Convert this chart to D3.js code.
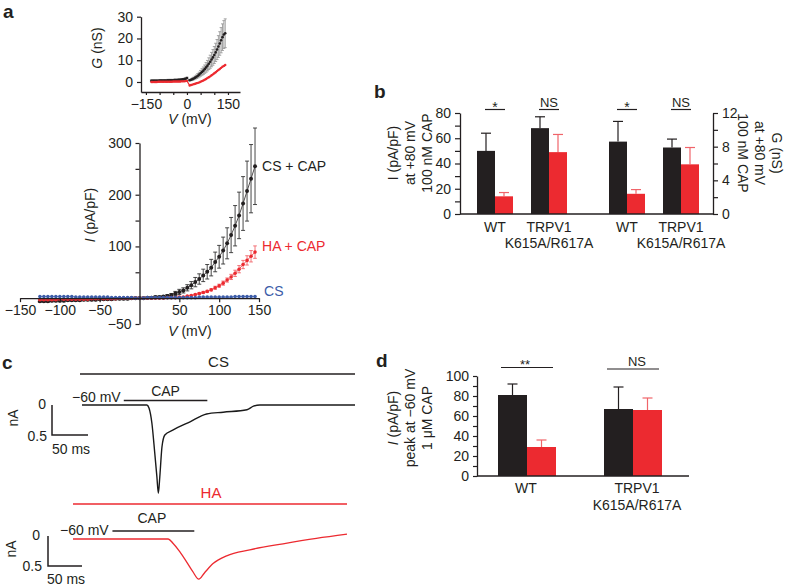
<!DOCTYPE html>
<html><head><meta charset="utf-8">
<script src="https://cdn.jsdelivr.net/npm/d3@7"></script>
<style>body{margin:0;background:#fff}</style>
</head><body>
<svg id="c" width="788" height="586"></svg>
<script>
// ================= DATA =================
// Panel a main: I-V relation
const ivVoltage = [-125,-120,-115,-110,-105,-100,-95,-90,-85,-80,-75,-70,-65,-60,-55,-50,-45,-40,-35,-30,-25,-20,-15,-10,-5,0,5,10,15,20,25,30,35,40,45,50,55,60,65,70,75,80,85,90,95,100,105,110,115,120,125,130,135,140,145];
const csCapI   = [-6,-6,-6,-5,-5,-5,-5,-4,-4,-4,-4,-3,-3,-3,-3,-2,-2,-2,-2,-1,-1,-1,-1,0,0,0,0,1,1,2,2,3,4,6,9,12,15,20,25,31,37,44,51,59,70,80,92,106,122,140,160,183,207,231,255];
const csCapErr = [2,2,2,2,2,2,2,2,2,2,2,2,2,2,2,2,2,2,2,2,2,2,2,2,2,2,2,2,2,2,2,2,3,3,4,5,5,6,7,9,10,12,14,16,19,22,26,30,34,39,45,52,58,66,74];
const haCapI   = [-3,-3,-3,-3,-3,-2,-2,-2,-2,-2,-2,-2,-2,-1,-1,-1,-1,-1,-1,-1,0,0,0,0,0,0,0,0,0,0,0,0,1,1,1,2,2,4,5,7,9,11,13,16,20,24,29,35,41,48,56,65,73,81,89];
const haCapErr = [1,1,1,1,1,1,1,1,1,1,1,1,1,1,1,1,1,1,1,1,1,1,1,1,1,1,1,1,1,1,1,1,1,1,1,1,1,1,1,1,2,2,2,2,3,3,4,4,5,6,7,8,9,11,12];
const csI      = [3,3,3,3,3,3,3,3,3,2,2,2,2,2,2,2,2,2,1,1,1,1,1,1,0,0,0,1,1,1,1,1,1,1,1,1,1,1,1,1,2,2,2,2,2,2,2,2,2,3,3,3,3,3,3];
const seriesLabels = ["CS + CAP", "HA + CAP", "CS"];

// Panel a inset: G-V relation
const gVoltage = [-130,-125,-120,-115,-110,-105,-100,-95,-90,-85,-80,-75,-70,-65,-60,-55,-50,-45,-40,-35,-30,-25,-20,-15,-10,-5,0,10,15,20,25,30,35,40,45,50,55,60,65,70,75,80,85,90,95,100,105,110,115,120,125,130,135,140];
const gCsCap    = [0.6,0.6,0.6,0.6,0.6,0.6,0.7,0.7,0.7,0.7,0.7,0.7,0.8,0.8,0.8,0.8,0.8,0.9,0.9,0.9,1.0,1.0,1.1,1.2,1.3,1.5,1.8,0.8,1.0,1.3,1.6,2.0,2.4,2.9,3.4,4.0,4.6,5.2,5.9,6.7,7.5,8.4,9.3,10.3,11.3,12.4,13.6,14.9,16.3,17.7,19.2,20.6,21.8,22.4];
const gCsCapErr = [0.4,0.4,0.4,0.4,0.4,0.4,0.4,0.4,0.4,0.4,0.4,0.4,0.4,0.4,0.4,0.4,0.4,0.4,0.4,0.4,0.4,0.4,0.4,0.4,0.4,0.4,0.4,0.3,0.4,0.5,0.6,0.7,0.8,1.0,1.1,1.3,1.5,1.7,1.9,2.2,2.4,2.7,3.0,3.3,3.6,3.9,4.2,4.6,5.0,5.4,5.8,6.1,6.4,6.6];
const gHaCap    = [0.0,0.0,0.0,0.0,0.0,0.1,0.1,0.1,0.1,0.1,0.1,0.1,0.1,0.1,0.1,0.1,0.2,0.2,0.2,0.2,0.2,0.2,0.3,0.3,0.3,0.4,0.5,-1.6,-1.4,-1.2,-1.0,-0.8,-0.6,-0.4,-0.2,0.1,0.4,0.7,1.0,1.4,1.8,2.2,2.6,3.1,3.5,4.0,4.5,5.0,5.5,6.0,6.5,7.0,7.4,7.8];

// Panel b
const bCategories = ["WT", "TRPV1|K615A/R617A"];
const bCurrentCS = [50, 68],  bCurrentCSErr = [14, 9];
const bCurrentHA = [14, 49],  bCurrentHAErr = [3, 14];
const bCondCS    = [8.6, 7.9], bCondCSErr   = [2.4, 1.0];
const bCondHA    = [2.4, 5.9], bCondHAErr   = [0.5, 2.0];
const bSigCurrent = ["*", "NS"], bSigCond = ["*", "NS"];

// Panel c traces (time ms, inward current nA)
const csTraceT = [0, 90, 93, 97, 101, 104, 106, 108, 111, 115, 126, 150, 173, 196, 229, 238, 247, 379];
const csTraceI = [0, 0, 0.05, 0.3, 0.8, 1.2, 1.47, 1.2, 0.7, 0.5, 0.42, 0.28, 0.15, 0.12, 0.08, 0.02, 0, 0];
const haTraceT = [0, 140, 147, 157, 167, 176, 185, 193, 206, 226, 260, 309, 358, 403];
const haTraceI = [0, 0, 0.07, 0.21, 0.38, 0.54, 0.67, 0.57, 0.41, 0.28, 0.18, 0.08, -0.01, -0.08];
const capWindow = [58, 174];

// Panel d
const dCategories = ["WT", "TRPV1|K615A/R617A"];
const dCS = [81, 67], dCSErr = [11, 22];
const dHA = [29, 66], dHAErr = [7, 12];
const dSig = ["**", "NS"];

// ================= DRAWING =================
const FF = '"Liberation Sans", Arial, Helvetica, sans-serif';
const INK = "#231f20", RED = "#ec2a30", BLUE = "#3c5ca8", RED_ERR = "#f0646a";
const svg = d3.select("#c").attr("font-family", FF);
const fmt = d => d < 0 ? "\u2212" + (-d) : String(d);

function styleAxis(g, fs = 14) {
  g.attr("font-size", fs).attr("font-family", FF);
  g.selectAll("path.domain").attr("stroke", INK).attr("stroke-width", 1.3);
  g.selectAll(".tick line").attr("stroke", INK).attr("stroke-width", 1.2);
  g.selectAll(".tick text").attr("fill", INK);
}
function text(x, y, s, o = {}) {
  const t = svg.append("text").attr("x", x).attr("y", y).text(s)
    .attr("font-size", o.size || 14).attr("fill", o.fill || INK)
    .attr("text-anchor", o.anchor || "start");
  if (o.weight) t.attr("font-weight", o.weight);
  if (o.rotate !== undefined) t.attr("transform", `rotate(${o.rotate},${x},${y})`).attr("dominant-baseline", "central");
  return t;
}
function rotTitle(x, y, parts, rot) {
  const t = svg.append("text").attr("x", x).attr("y", y).attr("font-size", 14).attr("fill", INK)
    .attr("text-anchor", "middle").attr("dominant-baseline", "central")
    .attr("transform", `rotate(${rot},${x},${y})`);
  parts.forEach(p => t.append("tspan").text(p[0]).attr("font-style", p[1] ? "italic" : "normal"));
  return t;
}

// Panel letters
text(3, 18, "a", {size: 19, weight: "bold"});
text(374, 98, "b", {size: 19, weight: "bold"});
text(2, 369, "c", {size: 19, weight: "bold"});
text(376, 367, "d", {size: 19, weight: "bold"});

function drawSeries(g, xs, ys, V, vals, errs, color, r, errColor, cap, lineW) {
  const data = V.map((v, i) => ({v, y: vals[i], e: errs ? errs[i] : 0}));
  g.append("path").datum(data)
    .attr("d", d3.line().x(d => xs(d.v)).y(d => ys(d.y)))
    .attr("fill", "none").attr("stroke", color).attr("stroke-width", lineW);
  if (errs) {
    const eb = g.append("g").attr("stroke", errColor).attr("stroke-width", 0.9);
    const sel = eb.selectAll("g").data(data).enter().append("g");
    sel.append("line").attr("x1", d => xs(d.v)).attr("x2", d => xs(d.v))
      .attr("y1", d => ys(d.y - d.e)).attr("y2", d => ys(d.y + d.e));
    sel.append("line").attr("x1", d => xs(d.v) - cap).attr("x2", d => xs(d.v) + cap)
      .attr("y1", d => ys(d.y + d.e)).attr("y2", d => ys(d.y + d.e));
    sel.append("line").attr("x1", d => xs(d.v) - cap).attr("x2", d => xs(d.v) + cap)
      .attr("y1", d => ys(d.y - d.e)).attr("y2", d => ys(d.y - d.e));
  }
  g.append("g").selectAll("circle").data(data).enter().append("circle")
    .attr("cx", d => xs(d.v)).attr("cy", d => ys(d.y)).attr("r", r).attr("fill", color);
}

// ---------- Panel a inset ----------
{
  const gx = d3.scaleLinear().domain([-168, 194]).range([141, 240]);
  const gy = d3.scaleLinear().domain([-4.6, 30]).range([92, 16.7]);
  const g = svg.append("g");
  drawSeries(g, gx, gy, gVoltage, gCsCap, gCsCapErr, INK, 1.3, "#9a9a9a", 1.5, 0.8);
  drawSeries(g, gx, gy, gVoltage, gHaCap, null, RED, 1.2, RED, 0, 1.2);
  const xa = g.append("g").attr("transform", `translate(0,${gy(-4.6)})`)
    .call(d3.axisBottom(gx).tickValues([-150, -100, -50, 0, 50, 100, 150]).tickSize(3).tickSizeOuter(0).tickPadding(4)
      .tickFormat(d => [-150, 0, 150].includes(d) ? fmt(d) : ""));
  styleAxis(xa);
  const ya = g.append("g").attr("transform", `translate(${gx(-168)},0)`)
    .call(d3.axisLeft(gy).tickValues([0, 10, 20, 30]).tickSize(4).tickSizeOuter(0).tickPadding(4).tickFormat(fmt));
  styleAxis(ya);
  const vt = text(190, 124, "", {anchor: "middle"});
  vt.append("tspan").text("V").attr("font-style", "italic");
  vt.append("tspan").text(" (mV)");
  rotTitle(97, 48, [["G", true], [" (nS)", false]], -90);
}

// ---------- Panel a main ----------
{
  const mx = d3.scaleLinear().domain([-150, 150]).range([20, 259]);
  const my = d3.scaleLinear().domain([-50, 300]).range([324, 143]);
  const g = svg.append("g");
  drawSeries(g, mx, my, ivVoltage, csCapI, csCapErr, INK, 2, "#333", 2, 0.8);
  drawSeries(g, mx, my, ivVoltage, haCapI, haCapErr, RED, 1.8, RED_ERR, 1.8, 0.8);
  drawSeries(g, mx, my, ivVoltage, csI, null, BLUE, 1.8, BLUE, 0, 0.8);
  const xa = g.append("g").attr("transform", `translate(0,${my(0)})`)
    .call(d3.axisBottom(mx).tickValues([-150, -100, -50, 50, 100, 150]).tickSize(4).tickSizeOuter(0).tickPadding(3).tickFormat(fmt));
  styleAxis(xa);
  const ya = g.append("g").attr("transform", `translate(${mx(0)},0)`)
    .call(d3.axisLeft(my).tickValues([-50, 50, 100, 150, 200, 250, 300]).tickSize(4).tickSizeOuter(0).tickPadding(4)
      .tickFormat(d => [-50, 100, 200, 300].includes(d) ? fmt(d) : ""));
  styleAxis(ya);
  const vt = text(190, 336, "", {anchor: "middle"});
  vt.append("tspan").text("V").attr("font-style", "italic");
  vt.append("tspan").text(" (mV)");
  rotTitle(90, 215, [["I", true], [" (pA/pF)", false]], -90);
  const last = ivVoltage.length - 1;
  text(mx(ivVoltage[last]) + 7, my(csCapI[last]) + 5, seriesLabels[0]);
  text(mx(ivVoltage[last]) + 7, my(100) + 5, seriesLabels[1], {fill: RED});
  text(mx(ivVoltage[last]) + 9, my(0) - 2, seriesLabels[2], {fill: BLUE});
}

// ---------- Panel b ----------
{
  const yL = d3.scaleLinear().domain([0, 80]).range([214, 113]);
  const yR = d3.scaleLinear().domain([0, 12]).range([214, 113]);
  const x1 = d3.scaleBand().domain(bCategories).range([468, 576]);
  const x2 = d3.scaleBand().domain(bCategories).range([600, 708]);
  const inner = d3.scaleBand().domain(["CS", "HA"]).range([-18, 18]);
  const g = svg.append("g");
  function bars(xs, ys, cs, csE, ha, haE, sig) {
    bCategories.forEach((c, i) => {
      const cx = xs(c) + xs.bandwidth() / 2;
      [["CS", cs[i], csE[i], INK, INK], ["HA", ha[i], haE[i], RED, RED_ERR]].forEach(([k, v, e, col, ecol]) => {
        const bx = cx + inner(k), bw = inner.bandwidth();
        g.append("line").attr("x1", bx + bw / 2).attr("x2", bx + bw / 2).attr("y1", ys(v)).attr("y2", ys(v + e)).attr("stroke", ecol).attr("stroke-width", 1.2);
        g.append("line").attr("x1", bx + bw / 2 - 5).attr("x2", bx + bw / 2 + 5).attr("y1", ys(v + e)).attr("y2", ys(v + e)).attr("stroke", ecol).attr("stroke-width", 1.2);
        g.append("rect").attr("x", bx).attr("width", bw).attr("y", ys(v)).attr("height", ys(0) - ys(v)).attr("fill", col);
      });
      g.append("line").attr("x1", cx - 10).attr("x2", cx + 10).attr("y1", 109.5).attr("y2", 109.5).attr("stroke", INK).attr("stroke-width", 1.2);
      if (sig[i] === "NS") text(cx, 107, sig[i], {anchor: "middle", size: 13});
      else text(cx, 112, sig[i], {anchor: "middle", size: 14});
      const parts = c.split("|");
      const t = text(cx, 232, "", {anchor: "middle"});
      parts.forEach((p, j) => t.append("tspan").attr("x", cx).attr("dy", j ? 16 : 0).text(p));
    });
  }
  bars(x1, yL, bCurrentCS, bCurrentCSErr, bCurrentHA, bCurrentHAErr, bSigCurrent);
  bars(x2, yR, bCondCS, bCondCSErr, bCondHA, bCondHAErr, bSigCond);
  const la = g.append("g").attr("transform", "translate(460,0)")
    .call(d3.axisLeft(yL).tickValues(d3.range(0, 81, 10)).tickSize(5).tickSizeOuter(0).tickPadding(4)
      .tickFormat(d => d % 20 === 0 ? d : ""));
  styleAxis(la);
  const ra = g.append("g").attr("transform", "translate(713,0)")
    .call(d3.axisRight(yR).tickValues(d3.range(0, 13, 2)).tickSize(5).tickSizeOuter(0).tickPadding(4)
      .tickFormat(d => d % 4 === 0 ? d : ""));
  styleAxis(ra);
  g.append("line").attr("x1", 460).attr("x2", 713).attr("y1", yL(0)).attr("y2", yL(0)).attr("stroke", INK).attr("stroke-width", 1.3);
  rotTitle(393, 153, [["I (pA/pF)", false]], -90);
  rotTitle(410, 153, [["at +80 mV", false]], -90);
  rotTitle(427, 153, [["100 nM CAP", false]], -90);
  rotTitle(777, 153, [["G (nS)", false]], 90);
  rotTitle(760, 153, [["at +80 mV", false]], 90);
  rotTitle(743, 153, [["100 nM CAP", false]], 90);
}

// ---------- Panel c ----------
{
  const g = svg.append("g");
  // CS
  const tx = d3.scaleLinear().domain([0, 379]).range([82, 355]);
  const ty = d3.scaleLinear().domain([0, 1.5]).range([405, 495]);
  g.append("line").attr("x1", tx(0) - 2).attr("x2", tx(379)).attr("y1", 374).attr("y2", 374).attr("stroke", INK).attr("stroke-width", 1.5);
  text((tx(0) + tx(379)) / 2, 367, "CS", {anchor: "middle", size: 15});
  text(72, 402, "\u221260 mV", {size: 14});
  g.append("line").attr("x1", tx(capWindow[0])).attr("x2", tx(capWindow[1])).attr("y1", 400.5).attr("y2", 400.5).attr("stroke", INK).attr("stroke-width", 1.5);
  text((tx(capWindow[0]) + tx(capWindow[1])) / 2, 396, "CAP", {anchor: "middle", size: 14});
  g.append("path").datum(csTraceT.map((t, i) => [t, csTraceI[i]]))
    .attr("d", d3.line().x(d => tx(d[0])).y(d => ty(d[1])).curve(d3.curveMonotoneX))
    .attr("fill", "none").attr("stroke", "#1a1a1a").attr("stroke-width", 1.4);
  g.append("path").attr("d", `M52,${ty(0)}V${ty(0.5)}H${52 + tx(50) - tx(0)}`).attr("fill", "none").attr("stroke", INK).attr("stroke-width", 1.5);
  text(46, 409, "0", {anchor: "end"});
  text(47, 441, "0.5", {anchor: "end"});
  text(52, 454, "50 ms");
  text(13, 418, "nA", {anchor: "middle", rotate: -90});

  // HA
  const tx2 = d3.scaleLinear().domain([0, 403]).range([73, 347]);
  const ty2 = d3.scaleLinear().domain([0, 1]).range([539, 599]);
  g.append("line").attr("x1", tx2(0)).attr("x2", tx2(403)).attr("y1", 504).attr("y2", 504).attr("stroke", RED).attr("stroke-width", 1.5);
  text((tx2(0) + tx2(403)) / 2 + 1, 498, "HA", {anchor: "middle", size: 15, fill: RED});
  text(60, 535, "\u221260 mV", {size: 14});
  g.append("line").attr("x1", tx2(capWindow[0])).attr("x2", tx2(capWindow[1]) + 3).attr("y1", 531).attr("y2", 531).attr("stroke", INK).attr("stroke-width", 1.5);
  text((tx2(capWindow[0]) + tx2(capWindow[1])) / 2, 523, "CAP", {anchor: "middle", size: 14});
  g.append("path").datum(haTraceT.map((t, i) => [t, haTraceI[i]]))
    .attr("d", d3.line().x(d => tx2(d[0])).y(d => ty2(d[1])).curve(d3.curveMonotoneX))
    .attr("fill", "none").attr("stroke", RED).attr("stroke-width", 1.3);
  g.append("path").attr("d", `M48,536V${536 + ty2(0.5) - ty2(0)}H${48 + tx2(50) - tx2(0)}`).attr("fill", "none").attr("stroke", INK).attr("stroke-width", 1.5);
  text(40, 540, "0", {anchor: "end"});
  text(42, 571, "0.5", {anchor: "end"});
  text(47, 584, "50 ms");
  text(11, 549, "nA", {anchor: "middle", rotate: -90});
}

// ---------- Panel d ----------
{
  const yD = d3.scaleLinear().domain([0, 100]).range([476, 376]);
  const xD = d3.scaleBand().domain(dCategories).range([474, 686]);
  const inner = d3.scaleBand().domain(["CS", "HA"]).range([-29, 29]);
  const g = svg.append("g");
  dCategories.forEach((c, i) => {
    const cx = xD(c) + xD.bandwidth() / 2;
    [["CS", dCS[i], dCSErr[i], INK, INK], ["HA", dHA[i], dHAErr[i], RED, RED_ERR]].forEach(([k, v, e, col, ecol]) => {
      const bx = cx + inner(k), bw = inner.bandwidth();
      g.append("line").attr("x1", bx + bw / 2).attr("x2", bx + bw / 2).attr("y1", yD(v)).attr("y2", yD(v + e)).attr("stroke", ecol).attr("stroke-width", 1.2);
      g.append("line").attr("x1", bx + bw / 2 - 5).attr("x2", bx + bw / 2 + 5).attr("y1", yD(v + e)).attr("y2", yD(v + e)).attr("stroke", ecol).attr("stroke-width", 1.2);
      g.append("rect").attr("x", bx).attr("width", bw).attr("y", yD(v)).attr("height", yD(0) - yD(v)).attr("fill", col);
    });
    const ly = dSig[i] === "NS" ? 369 : 367.5;
    g.append("line").attr("x1", cx - 26).attr("x2", cx + 26).attr("y1", ly).attr("y2", ly).attr("stroke", INK).attr("stroke-width", 1.2);
    if (dSig[i] === "NS") text(cx + 4, 366, dSig[i], {anchor: "middle", size: 13});
    else text(cx - 2, 369, dSig[i], {anchor: "middle", size: 13});
    const parts = c.split("|");
    const t = text(cx + (parts.length > 1 ? 4 : -1), 493, "", {anchor: "middle"});
    parts.forEach((p, j) => t.append("tspan").attr("x", cx + (parts.length > 1 ? 4 : -1)).attr("dy", j ? 17 : 0).text(p));
  });
  const la = g.append("g").attr("transform", "translate(477,0)")
    .call(d3.axisLeft(yD).tickValues(d3.range(0, 101, 10)).tickSize(4).tickSizeOuter(0).tickPadding(4)
      .tickFormat(d => d % 20 === 0 ? d : ""));
  styleAxis(la);
  g.append("line").attr("x1", 477).attr("x2", 689).attr("y1", yD(0)).attr("y2", yD(0)).attr("stroke", INK).attr("stroke-width", 1.3);
  rotTitle(393, 418, [["I", true], [" (pA/pF)", false]], -90);
  rotTitle(410, 418, [["peak at \u221260 mV", false]], -90);
  rotTitle(427, 418, [["1 \u03bcM CAP", false]], -90);
}
</script>
</body></html>
